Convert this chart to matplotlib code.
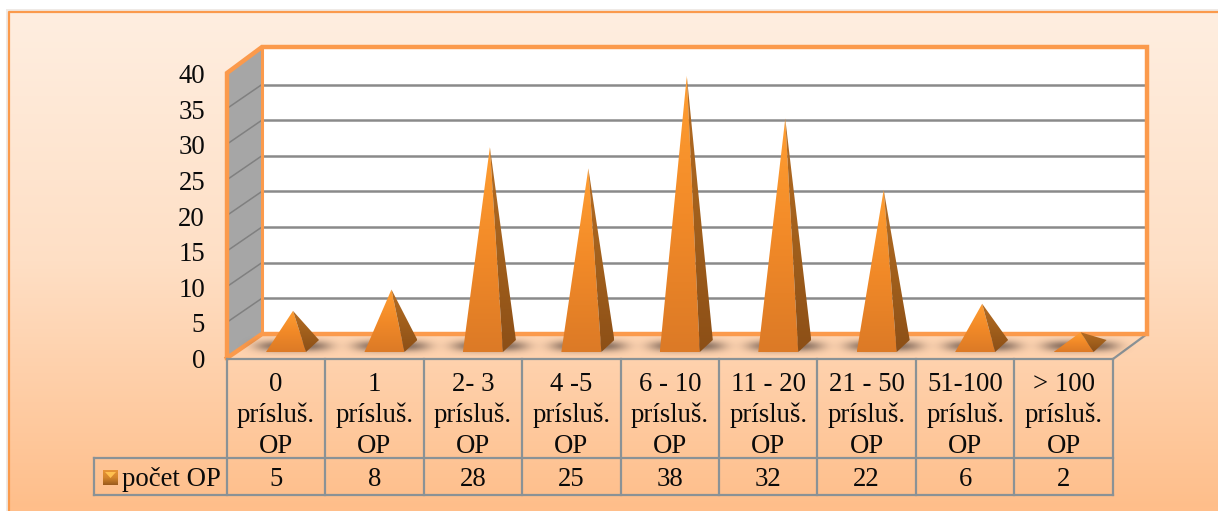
import numpy as np
import matplotlib
matplotlib.use("Agg")
import matplotlib.pyplot as plt
from matplotlib.patches import Polygon, Rectangle
from matplotlib.colors import LinearSegmentedColormap

categories = ["0\nprísluš.\nOP", "1\nprísluš.\nOP", "2- 3\nprísluš.\nOP", "4 -5\nprísluš.\nOP",
              "6 - 10\nprísluš.\nOP", "11 - 20\nprísluš.\nOP", "21 - 50\nprísluš.\nOP",
              "51-100\nprísluš.\nOP", "> 100\nprísluš.\nOP"]
values = [5, 8, 28, 25, 38, 32, 22, 6, 2]
y_ticks = [0, 5, 10, 15, 20, 25, 30, 35, 40]
series_name = "počet OP"

W, H = 1218, 511
plt.rcParams['font.family'] = ['Liberation Serif', 'DejaVu Serif']
fig = plt.figure(figsize=(W/100, H/100), dpi=100)
ax = fig.add_axes([0, 0, 1, 1])
ax.axis("off")

CW = 98.45          # px per category
X0 = 276.0          # px of category 0
PY = 7.125          # px per unit
Y0 = 358.0          # px of value 0
XLIM = ((0 - X0)/CW, (W - X0)/CW)
YLIM = ((Y0 - H)/PY, (Y0 - 0)/PY)
ax.set_xlim(*XLIM)
ax.set_ylim(*YLIM)
ax.set_autoscale_on(False)

dx = lambda p: p/CW
dy = lambda p: p/PY
def PXY(px, py):
    return ((px - X0)/CW, (Y0 - py)/PY)

FS = 19.3
TXT = '#0a0a0a'
GRAY = '#8a9296'
ORANGE = '#fb9a4c'

def grad(poly_pts, stops, zorder):
    pts = np.array(poly_pts)
    x0, x1, y0, y1 = pts[:,0].min(), pts[:,0].max(), pts[:,1].min(), pts[:,1].max()
    cmap = LinearSegmentedColormap.from_list("g", stops)
    g = np.linspace(0, 1, 128).reshape(-1, 1)
    im = ax.imshow(g, extent=(x0, x1, y0, y1), origin='lower',
                   cmap=cmap, aspect='auto', zorder=zorder, interpolation='bilinear')
    clip = Polygon(pts, closed=True, transform=ax.transData, fc='none', ec='none')
    ax.add_patch(clip)
    im.set_clip_path(clip)
    return im

# outer shadow + panel (runs off the right and bottom of the picture)
ax.add_patch(Rectangle(PXY(6, 511), dx(1212), dy(502), fc='#efeae6', ec='none', zorder=0))
panel = [PXY(9, 511), PXY(1218, 511), PXY(1218, 12), PXY(9, 12)]
grad(panel, ['#ffbe8a', '#fedfc5', '#feeee0'], 1)
ax.plot(*zip(PXY(9, 511), PXY(9, 12), PXY(1218, 12)), color=ORANGE, lw=1.6, zorder=2)

# walls
ax.add_patch(Polygon([PXY(262, 47), PXY(1147, 47), PXY(1147, 334), PXY(262, 334)], fc='white', ec='none', zorder=2))
ax.add_patch(Polygon([PXY(227, 73), PXY(262, 47), PXY(262, 334), PXY(227, 358)], fc='#a6a6a6', ec='none', zorder=2))

# gridlines
for t in y_ticks[1:-1]:
    yb = t + dy(24)
    ax.plot([-0.5, -0.5 + dx(35)], [t, yb], color='#808080', lw=1.1, zorder=3)
    ax.plot([-0.5 + dx(35), 8.5 + dx(34)], [yb, yb], color='#8a8a8a', lw=1.8, zorder=3)

# walls' orange edges
bx = [PXY(227, 358), PXY(227, 73), PXY(262, 47), PXY(1147, 47), PXY(1147, 334), PXY(262, 334), PXY(227, 358)]
ax.plot(*zip(*bx), color=ORANGE, lw=3.2, solid_joinstyle='miter', zorder=4)
ax.plot(*zip(PXY(262, 47), PXY(262, 334)), color=ORANGE, lw=2.2, zorder=4)
ax.plot(*zip(PXY(1113, 359), PXY(1147, 334)), color=GRAY, lw=1.6, zorder=3)

# soft floor shadows under the pyramids: one overlay spanning the floor
cols_px = np.arange(227, 1147)
rows_px = np.arange(336, 356)
gx, gy = np.meshgrid(cols_px + 0.5, rows_px + 0.5)
alpha = np.zeros(gx.shape)
for i in range(len(values)):
    c = X0 + CW*i + 17
    alpha += np.exp(-((gx - c)/37.0)**4) * np.exp(-((gy - 346)/5.5)**2)
overlay = np.zeros(gx.shape + (4,), dtype=np.uint8)
overlay[..., 0], overlay[..., 1], overlay[..., 2] = 70, 55, 50
overlay[..., 3] = np.clip(alpha*165, 0, 255).astype(np.uint8)
x_a = PXY(227, 0)[0]; x_b = PXY(1147, 0)[0]
y_a = PXY(0, 356)[1]; y_b = PXY(0, 336)[1]
ax.imshow(overlay, extent=(x_a, x_b, y_a, y_b), origin='upper', aspect='auto', zorder=4.5, interpolation='bilinear')

# pyramids, from values
BASE = dy(11.5)
for i, v in enumerate(values):
    cx = i + dx(17)
    apex = (cx, v + BASE)
    fl = (cx - dx(27), dy(6))
    fr = (cx + dx(13), dy(6))
    br = (cx + dx(26), dy(18))
    grad([fl, fr, apex], ['#dc7a26', '#f28a28', '#ff9e32'], 6)
    grad([fr, br, apex], ['#8c4f17', '#a2601c', '#b46c24'], 6)

# table
for i in range(10):
    x = i - 0.5
    ax.plot([x, x], [PXY(0, 359)[1], PXY(0, 495)[1]], color=GRAY, lw=1.6, zorder=7)
for py in (359, 458, 495):
    x_left = 94 if py != 359 else 227
    ax.plot(*zip(PXY(x_left, py), PXY(1113, py)), color=GRAY, lw=1.6, zorder=7)
ax.plot(*zip(PXY(94, 458), PXY(94, 495)), color=GRAY, lw=1.6, zorder=7)

for i, (c, v) in enumerate(zip(categories, values)):
    for k, line in enumerate(c.split("\n")):
        ax.text(i, PXY(0, 384 + k*31)[1], line, ha='center', va='center', fontsize=FS, color=TXT, zorder=8)
    ax.text(i, PXY(0, 479)[1], str(v), ha='center', va='center', fontsize=FS, color=TXT, zorder=8)

for t in y_ticks:
    ax.text(PXY(205, 0)[0], t - dy(3.5), str(t), ha='right', va='center', fontsize=FS, color=TXT, zorder=8)

# legend key
key = [PXY(103, 470), PXY(118, 470), PXY(118, 485), PXY(103, 485)]
grad(key, ['#9a5a1c', '#d5862c', '#e89436'], 8)
ax.add_patch(Polygon([PXY(105, 472), PXY(116, 472), PXY(110.5, 478)], fc='#ffc04f', ec='none', zorder=9))
ax.text(PXY(122, 0)[0], PXY(0, 479)[1], series_name, ha='left', va='center', fontsize=FS, color=TXT, zorder=8)

ax.set_xlim(*XLIM)
ax.set_ylim(*YLIM)
fig.savefig("out.png", dpi=100, facecolor='white')
